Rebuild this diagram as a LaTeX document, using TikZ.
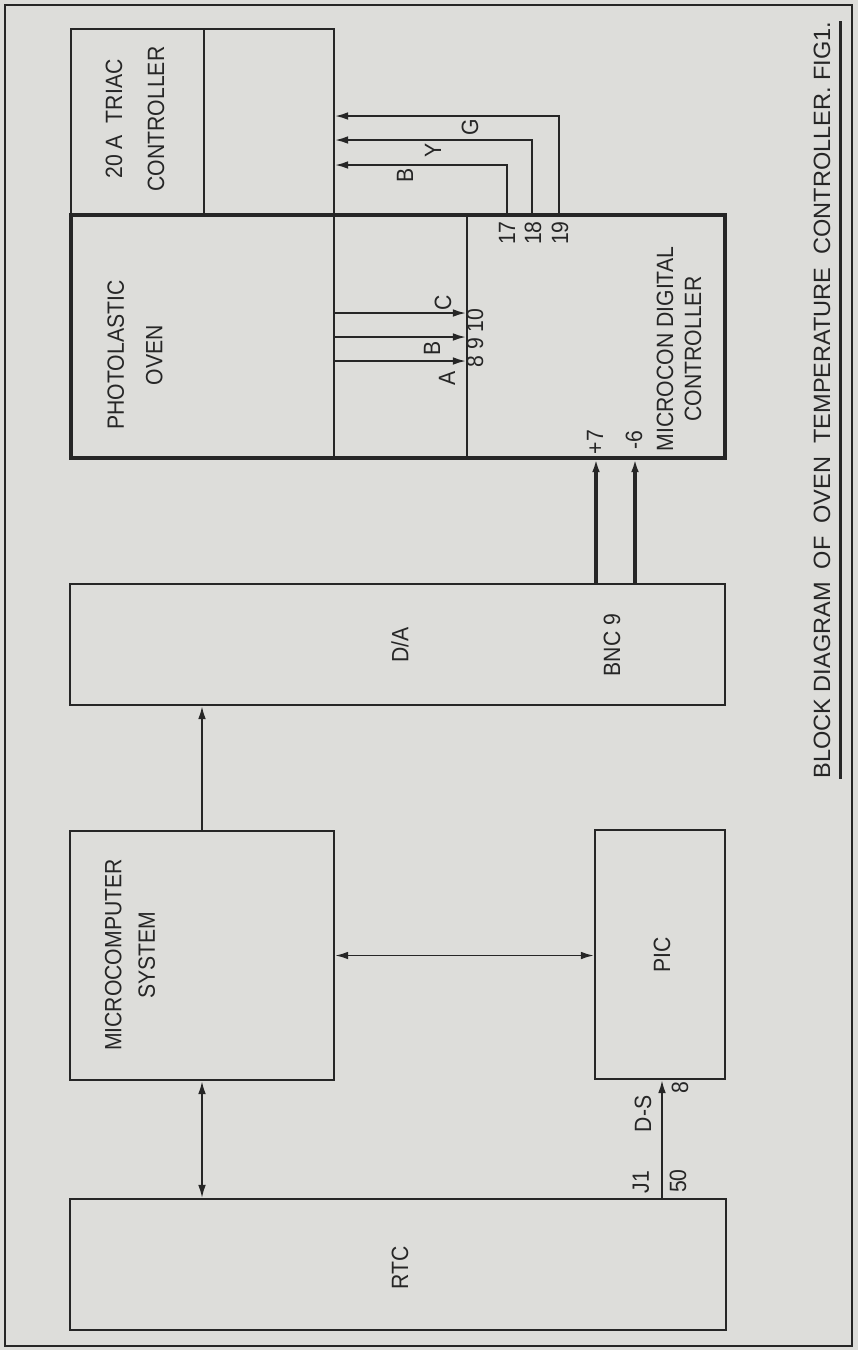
\documentclass[tikz,border=0pt]{standalone}
\usepackage{fontspec}
\newfontfamily\lblfont[FakeStretch=0.9]{Liberation Sans}
\newfontfamily\ttlfont{Liberation Sans}
\usetikzlibrary{arrows.meta,fit}
\definecolor{paper}{RGB}{221,221,218}
\definecolor{ink}{RGB}{38,38,38}

\begin{document}
\begin{tikzpicture}[x=0.02cm, y=-0.02cm, >={Latex[length=7.5pt,width=4.4pt]},
        blk/.style={draw=ink, line width=1.1pt, inner sep=0pt},
        lbl/.style={rotate=90, text=ink, inner sep=0pt, font=\lblfont\fontsize{13.4}{16}\selectfont},
        wire/.style={draw=ink, line width=1.1pt},
        fat/.style={draw=ink, line width=2pt}]
        % --- Giấy nền và khung ---
        \fill[paper] (0,0) rectangle (858,1350);
        \useasboundingbox (0,0) rectangle (858,1350);
        \draw[ink, line width=1.1pt] (5,5) rectangle (852,1346);

        % --- Các khối ---
        \node[blk, fit={(71,29) (334,215)}] (triac) {};
        \node[blk, fit={(71,215) (334,458)}] (oven) {};
        \node[blk, fit={(467,215) (725,458)}] (mdc) {};
        \node[blk, line width=2pt, fit={(71,215) (725,458)}] (frame) {};
        \node[blk, fit={(70,584) (725,705)}] (da) {};
        \node[blk, fit={(70,831) (334,1080)}] (micro) {};
        \node[blk, fit={(595,830) (725,1079)}] (pic) {};
        \node[blk, fit={(70,1199) (726,1330)}] (rtc) {};

        \coordinate (tdiv) at (204,29);
        \draw[wire] (tdiv) -- (tdiv |- triac.south);

        % --- Nhãn khối ---
        \node[lbl, align=center] (triaclab) at (135,119) {20 A\ \ TRIAC\\[8pt]CONTROLLER};
        \node[lbl, align=center] (ovenlab) at (135,355) {PHOTOLASTIC\\[6pt]OVEN};
        \node[lbl, align=center] (mdclab) at (679,349) {MICROCON DIGITAL\\CONTROLLER};
        \node[lbl] (dalab) at (400,645) {D/A};
        \node[lbl] (bnclab) at (612,645) {BNC 9};
        \node[lbl, align=center] (microlab) at (130,955) {MICROCOMPUTER\\[3pt]SYSTEM};
        \node[lbl] (piclab) at (662,955) {PIC};
        \node[lbl] (rtclab) at (400,1268) {RTC};

        % --- Dây A, B, C vào bộ điều khiển ---
        \foreach \yy/\nm in {313/c, 337/b, 361/a}
        {
            \coordinate (in\nm) at (334,\yy);
            \draw[wire, ->] (in\nm) -- (in\nm -| mdc.west);
        }
        \node[lbl] (pa) at (447,378) {A};
        \node[lbl] (pb) at (432,348) {B};
        \node[lbl] (pc) at (443,303) {C};
        \node[lbl] (pins) at (475,338) {8 9 10};

        % --- Dây B, Y, G ra bộ triac ---
        \foreach \xx/\yy/\nm in {507/165/b, 532/140/y, 559/116/g}
        {
            \coordinate (out\nm) at (\xx,\yy);
            \draw[wire, ->] (out\nm |- mdc.north) -- (out\nm) -- (out\nm -| triac.east);
        }
        \node[lbl] (p17) at (507,233) {17};
        \node[lbl] (p18) at (533,233) {18};
        \node[lbl] (p19) at (560,233) {19};
        \node[lbl] (wb) at (405,175) {B};
        \node[lbl] (wy) at (433,150) {Y};
        \node[lbl] (wg) at (470,127) {G};

        % --- BNC 9 -> +7, -6 ---
        \foreach \xx/\nm in {596/p, 635/m}
        {
            \coordinate (bnc\nm) at (\xx,584);
            \draw[fat, ->] (bnc\nm) -- (bnc\nm |- mdc.south);
        }
        \node[lbl] (pp7) at (595,442) {+7};
        \node[lbl] (pm6) at (634,440) {-6};

        % --- Các mũi tên còn lại ---
        \draw[wire, ->] (micro.north) -- (micro.north |- da.south);
        \draw[wire, <->] (micro.east) -- (micro.east -| pic.west);
        \draw[wire, <->] (micro.south) -- (micro.south |- rtc.north);
        \coordinate (ds) at (662,1199);
        \draw[wire, ->] (ds) -- (ds |- pic.south);
        \node[lbl] (j1) at (641,1182) {J1};
        \node[lbl] (p50) at (678,1181) {50};
        \node[lbl] (dslab) at (643,1114) {D-S};
        \node[lbl] (p8) at (680,1088) {8};

        % --- Tiêu đề ---
        \node[lbl, inner ysep=5.6pt, font=\ttlfont\fontsize{13.4}{16}\selectfont] (title) at (822,400)
            {BLOCK DIAGRAM\ \ OF\ \ OVEN\ \ TEMPERATURE\ \ CONTROLLER.\ FIG1.};
        \draw[ink, line width=1.4pt] (title.south west) -- (title.south east);
\end{tikzpicture}
\end{document}
